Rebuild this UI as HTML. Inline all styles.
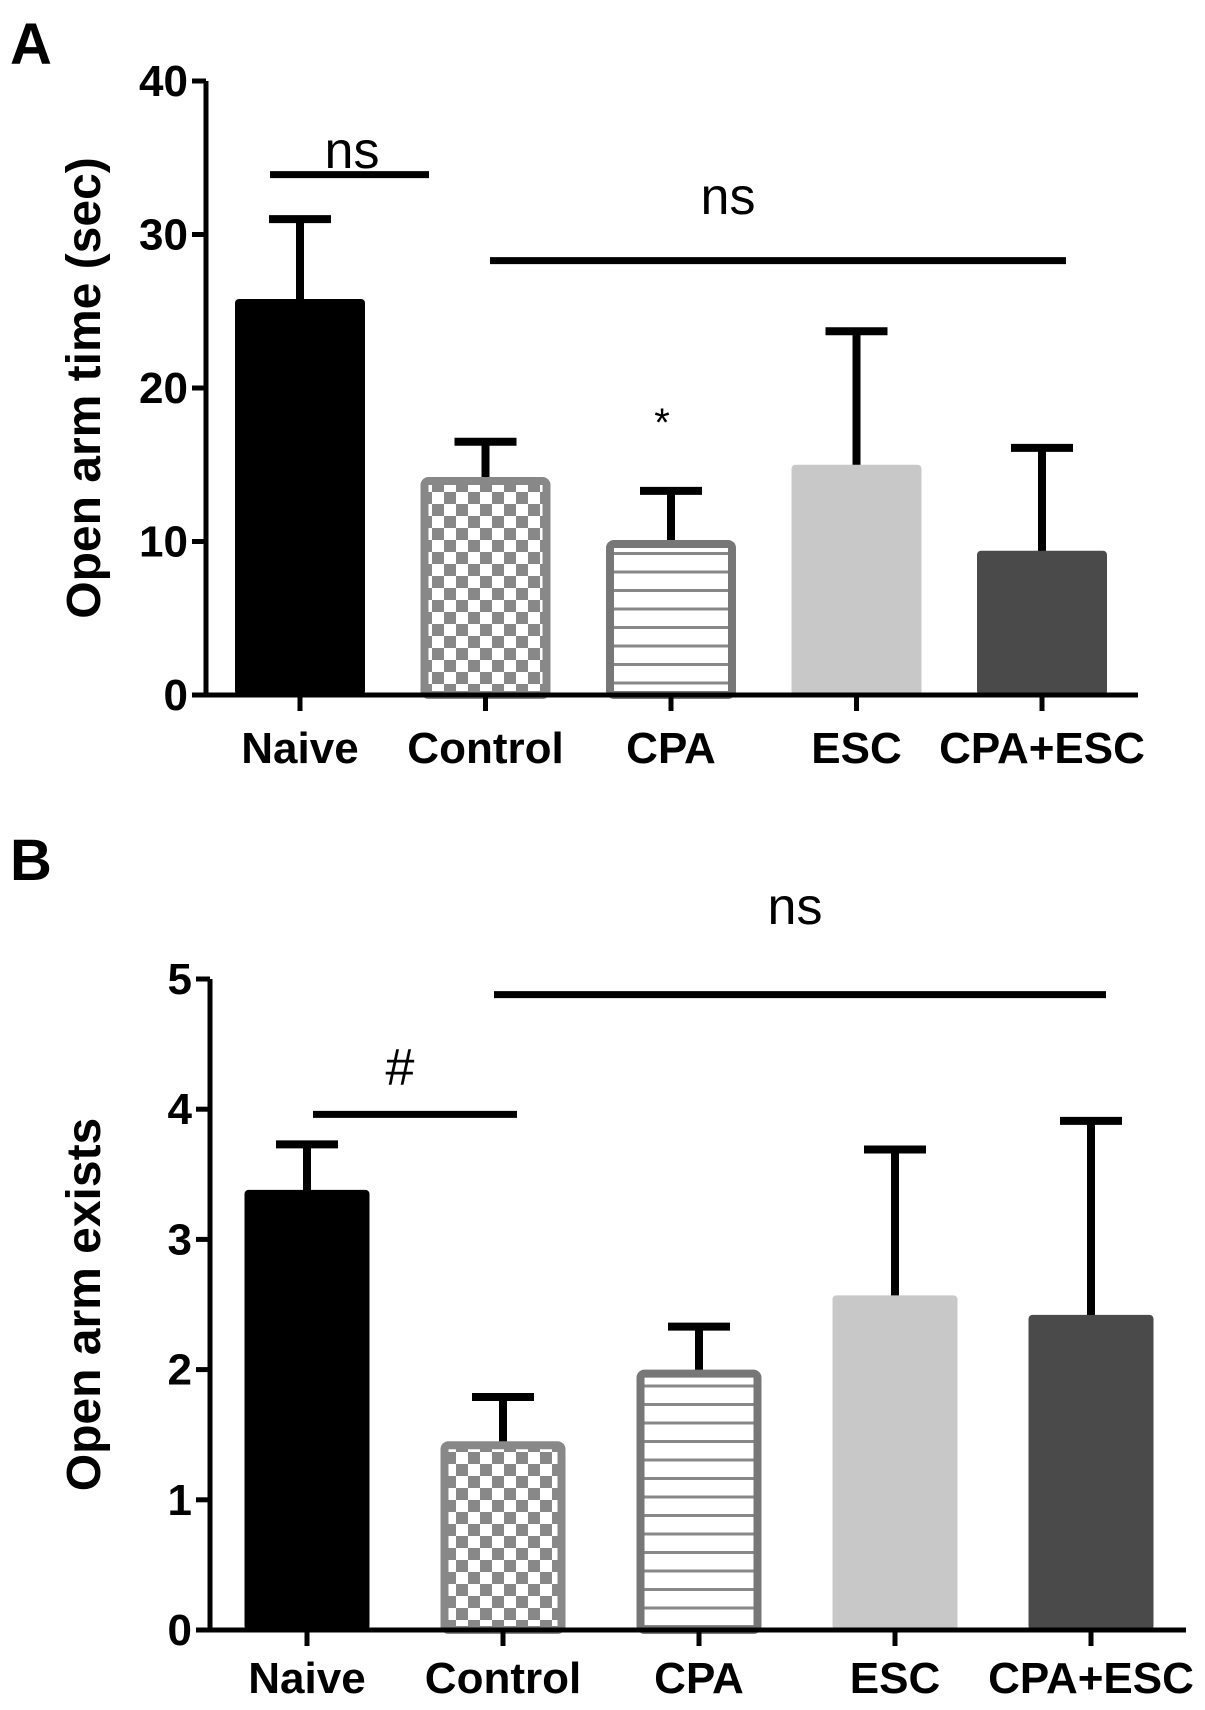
<!DOCTYPE html>
<html><head><meta charset="utf-8"><style>
html,body{margin:0;padding:0;background:#fff;overflow:hidden;}
svg{display:block;font-family:"Liberation Sans",sans-serif;}
.n{font-family:"Liberation Sans Narrow","Liberation Sans",sans-serif;}
</style></head><body>
<svg id="fig" width="1205" height="1710" viewBox="0 0 1205 1710">
<defs>
<pattern id="checker" width="24" height="24" patternUnits="userSpaceOnUse">
<rect width="24" height="24" fill="#fff"/><rect width="12" height="12" fill="#888"/><rect x="12" y="12" width="12" height="12" fill="#888"/>
</pattern>
<pattern id="hlines" width="10" height="18.5" patternUnits="userSpaceOnUse">
<rect width="10" height="18.5" fill="#fff"/><rect y="15.5" width="10" height="3" fill="#888"/>
</pattern>
</defs>
</svg>
<script>
const categories = ["Naive","Control","CPA","ESC","CPA+ESC"];
const timeMeans = [25.8, 14.2, 10.1, 15.0, 9.4];
const timeErrs = [31.0, 16.5, 13.3, 23.7, 16.1];
const timeTicks = [0,10,20,30,40];
const exitMeans = [3.38, 1.45, 2.0, 2.57, 2.42];
const exitErrs = [3.73, 1.79, 2.33, 3.69, 3.91];
const exitTicks = [0,1,2,3,4,5];

const NS = "http://www.w3.org/2000/svg";
const svg = document.getElementById('fig');
const fills = ["#000","url(#checker)","url(#hlines)","#c8c8c8","#4a4a4a"];
const strokes = ["#000","#888","#777","#c8c8c8","#4a4a4a"];
function mk(tag, attrs, parent){const e=document.createElementNS(NS,tag);for(const k in attrs)e.setAttribute(k,attrs[k]);(parent||svg).appendChild(e);return e;}

function panel(cfg){
  const g = mk('g',{});
  
  
  const y = v => cfg.y0 - (v/cfg.max)*(cfg.y0-cfg.yTop);
  const xc = i => cfg.x0 + i*cfg.step;
  categories.forEach((c,i)=>{
    const top=y(cfg.means[i]), x=xc(i)-cfg.bw/2;
    const eb = mk('line',{x1:xc(i),x2:xc(i),y1:top+4,y2:y(cfg.errs[i]),stroke:"#000","stroke-width":8},g);
    
    
    const cap = mk('line',{x1:xc(i)-31,x2:xc(i)+31,y1:y(cfg.errs[i]),y2:y(cfg.errs[i]),stroke:"#000","stroke-width":8},g);
    
    
    const sw = (i==1||i==2)?8:0;
    const r = mk('rect',{x:x+sw/2,y:top+sw/2,width:cfg.bw-sw,height:cfg.y0-top-sw/2,fill:fills[i],stroke:strokes[i],"stroke-width":sw,rx:4},g);
    
    
  });
  const ya = mk('line',{x1:cfg.ax,x2:cfg.ax,y1:cfg.yTop,y2:cfg.y0+2,stroke:"#000","stroke-width":5},g);
  
  
  const xa = mk('line',{x1:cfg.ax-2,x2:cfg.axEnd,y1:cfg.y0,y2:cfg.y0,stroke:"#000","stroke-width":5},g);
  
  
  cfg.ticks.forEach(t=>{
    mk('line',{x1:cfg.ax-14,x2:cfg.ax,y1:y(t),y2:y(t),stroke:"#000","stroke-width":5},g);
    const tl = mk('text',{x:cfg.ax-18,y:y(t)+15,"text-anchor":"end","font-size":44,"font-weight":"bold","class":"n"},g);
    tl.textContent=t;
    
    
  });
  categories.forEach((c,i)=>{
    mk('line',{x1:xc(i),x2:xc(i),y1:cfg.y0,y2:cfg.y0+16,stroke:"#000","stroke-width":5},g);
    const t = mk('text',{x:xc(i),y:cfg.labelY,"text-anchor":"middle","font-size":44,"font-weight":"bold","class":"n"},g);
    t.textContent=c;
    
    
  });
  const yt = mk('text',{x:0,y:0,"text-anchor":"middle","font-size":48,"font-weight":"bold",transform:`translate(${cfg.titleX},${(cfg.yTop+cfg.y0)/2}) rotate(-90)`},g);
  yt.textContent=cfg.title;
  
  
  const pl = mk('text',{x:10,y:cfg.letterY,"font-size":58,"font-weight":"bold"},g);
  pl.textContent=cfg.letter;
  
  
  cfg.sig.forEach(s=>{
    const l = mk('line',{x1:s.x1,x2:s.x2,y1:y(s.v),y2:y(s.v),stroke:"#000","stroke-width":7},g);
    
    
    const t = mk('text',{x:s.tx,y:s.ty,"text-anchor":"middle","font-size":s.fs||52,"class":"n"},g);
    t.textContent=s.t;
    
    
  });
}
panel({name:'panel-a',means:timeMeans,errs:timeErrs,ticks:timeTicks,max:40,y0:695,yTop:81,ax:206,axEnd:1138,x0:300,step:185.5,bw:130,labelY:763,title:"Open arm time (sec)",titleX:100,letter:"A",letterY:64,
 sig:[{v:33.9,x1:270,x2:429,t:"ns",tx:352,ty:168},{v:28.3,x1:490,x2:1066,t:"ns",tx:728,ty:214},{v:-100,x1:0,x2:0,t:"*",tx:662,ty:436,fs:40}]});
panel({name:'panel-b',means:exitMeans,errs:exitErrs,ticks:exitTicks,max:5,y0:1630,yTop:979,ax:210,axEnd:1186,x0:307,step:196,bw:125,labelY:1693,title:"Open arm exists",titleX:100,letter:"B",letterY:880,
 sig:[{v:3.96,x1:313,x2:517,t:"#",tx:400,ty:1085},{v:4.88,x1:494,x2:1106,t:"ns",tx:795,ty:924}]});
</script>
</body></html>
